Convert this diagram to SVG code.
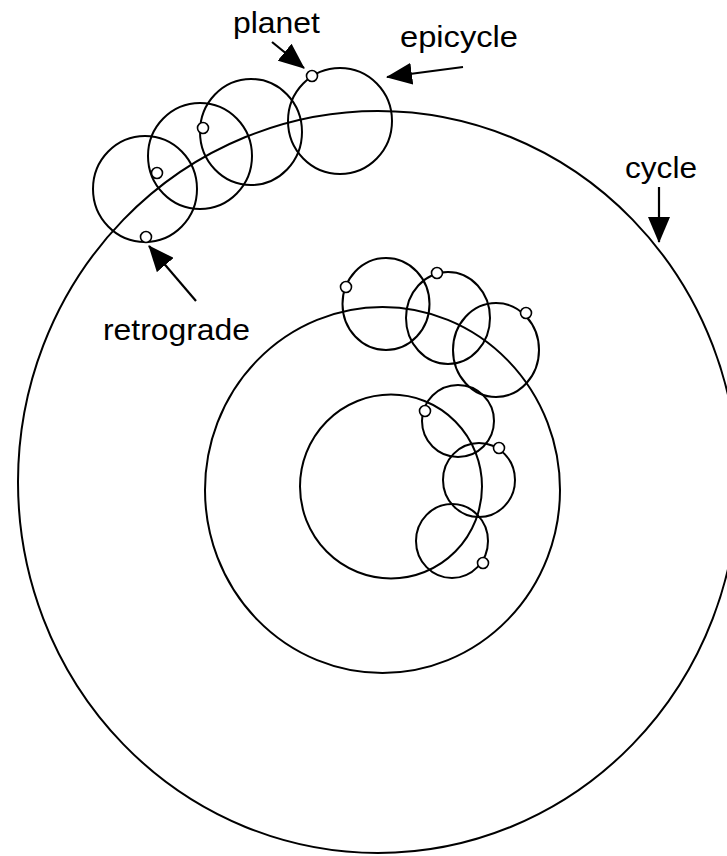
<svg xmlns="http://www.w3.org/2000/svg" width="727" height="856" viewBox="0 0 727 856">
<defs>
<style>
.orbit{fill:none;stroke:#000;stroke-width:2}
.epi{fill:none;stroke:#000;stroke-width:2}
.dot{fill:#fff;stroke:#000;stroke-width:1.6}
.lbl{font-family:"Liberation Sans",Arial,sans-serif;font-size:30px;fill:#000}
.arr{stroke:#000;stroke-width:2.2;fill:none;marker-end:url(#ah)}
</style>
<marker id="ah" markerUnits="userSpaceOnUse" markerWidth="26" markerHeight="22" viewBox="0 0 26 22" refX="25" refY="11" orient="auto">
<path d="M0,0 L26,11 L0,22 Z" fill="#000"/>
</marker>
</defs>
<rect width="727" height="856" fill="#fff"/>
<g id="cycle-outer"><ellipse class="orbit" cx="378" cy="482" rx="360" ry="371"/></g>
<g id="cycle-middle"><ellipse class="orbit" cx="382.5" cy="490" rx="177.5" ry="183"/></g>
<g id="cycle-inner"><ellipse class="orbit" cx="391" cy="486.5" rx="91" ry="92"/></g>
<g id="epicycles-outer">
<ellipse class="epi" cx="145" cy="189" rx="52" ry="53"/>
<ellipse class="epi" cx="200" cy="156" rx="52" ry="53"/>
<ellipse class="epi" cx="251" cy="132" rx="51" ry="53"/>
<ellipse class="epi" cx="340" cy="121" rx="52" ry="53"/>
</g>
<g id="epicycles-inner">
<ellipse class="epi" cx="386" cy="304" rx="43.5" ry="46"/>
<ellipse class="epi" cx="448" cy="318" rx="42" ry="46"/>
<ellipse class="epi" cx="496" cy="350" rx="43" ry="47"/>
<ellipse class="epi" cx="458" cy="421" rx="36" ry="36"/>
<ellipse class="epi" cx="479" cy="480" rx="36" ry="37"/>
<ellipse class="epi" cx="452" cy="541" rx="36" ry="37"/>
</g>
<g id="planets">
<circle class="dot" cx="312" cy="76" r="5.5"/>
<circle class="dot" cx="203" cy="128" r="5.5"/>
<circle class="dot" cx="157" cy="173" r="5.5"/>
<circle class="dot" cx="146" cy="237" r="5.5"/>
<circle class="dot" cx="346" cy="287" r="5.5"/>
<circle class="dot" cx="437" cy="273" r="5.5"/>
<circle class="dot" cx="526" cy="313" r="5.5"/>
<circle class="dot" cx="425" cy="411" r="5.5"/>
<circle class="dot" cx="499" cy="448" r="5.5"/>
<circle class="dot" cx="483" cy="563" r="5.5"/>
</g>
<g id="connectors">
<line class="arr" x1="272" y1="42" x2="304" y2="68"/>
<line class="arr" x1="463" y1="67" x2="387" y2="77"/>
<line class="arr" x1="196" y1="301" x2="149" y2="246"/>
<line class="arr" x1="659" y1="187" x2="659" y2="242"/>
</g>
<g id="label-planet"><text class="lbl" x="233" y="33" textLength="87" lengthAdjust="spacingAndGlyphs">planet</text></g>
<g id="label-epicycle"><text class="lbl" x="400" y="47" textLength="118" lengthAdjust="spacingAndGlyphs">epicycle</text></g>
<g id="label-retrograde"><text class="lbl" x="103" y="340" textLength="147" lengthAdjust="spacingAndGlyphs">retrograde</text></g>
<g id="label-cycle"><text class="lbl" x="625" y="178" textLength="72" lengthAdjust="spacingAndGlyphs">cycle</text></g>
</svg>
